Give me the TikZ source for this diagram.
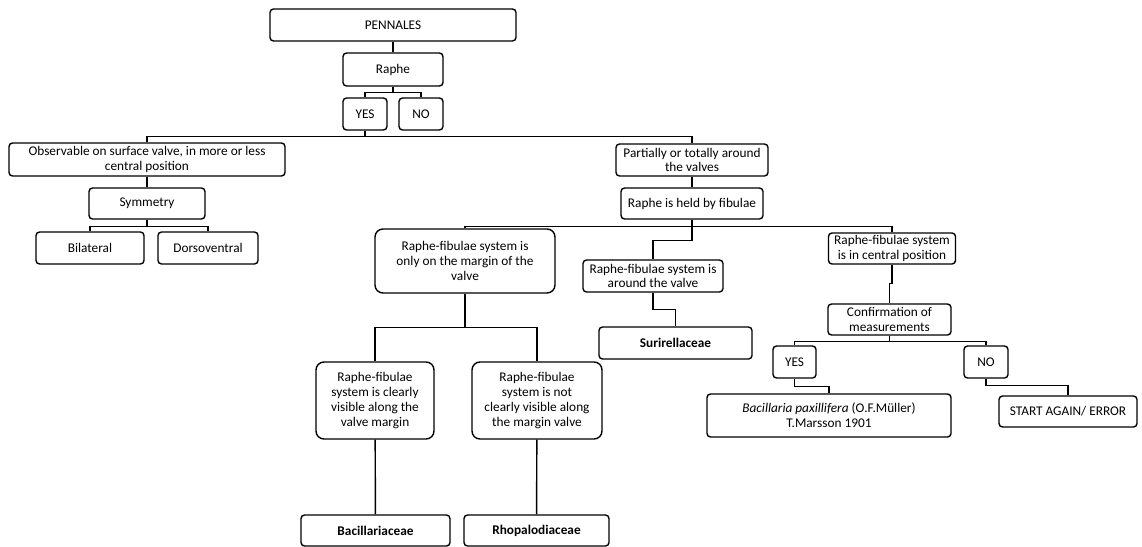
\documentclass[tikz,border=0pt]{standalone}
\usepackage{fontspec}
\setmainfont{Carlito}
\begin{document}
\begin{tikzpicture}[x=1pt,y=-1pt,
        box/.style={draw, line width=1.4pt, rounded corners=3.5pt, align=center, inner sep=0pt, font=\fontsize{13.3}{14.7}\selectfont},
        bigbox/.style={box, rounded corners=8pt},
        link/.style={line width=1.4pt}]
        \useasboundingbox (0,0) rectangle (1142,546);

        \node[box, minimum width=246pt, minimum height=32pt] (pennales) at (393,25) {PENNALES};
        \node[box, minimum width=100pt, minimum height=33pt] (raphe) at (393,69.5) {Raphe};
        \node[box, minimum width=44pt, minimum height=32pt] (yes) at (365,114) {YES};
        \node[box, minimum width=44pt, minimum height=32pt] (no) at (421,114) {NO};

        \node[box, minimum width=276pt, minimum height=33pt] (surface) at (147,159.5) {Observable on surface valve, in more or less\\central position};
        \node[box, minimum width=116pt, minimum height=31pt] (symmetry) at (147,203.5) {Symmetry};
        \node[box, minimum width=108pt, minimum height=32pt] (bilateral) at (90,248) {Bilateral};
        \node[box, minimum width=100pt, minimum height=32pt] (dorso) at (208,248) {Dorsoventral};

        \node[box, minimum width=152pt, minimum height=32pt] (around) at (692,160) {Partially or totally around\\the valves};
        \node[box, minimum width=142pt, minimum height=31pt] (fibulae) at (692,203.5) {Raphe is held by fibulae};

        \node[bigbox, minimum width=180pt, minimum height=64pt] (margin) at (465,261) {Raphe-fibulae system is\\only on the margin of the\\valve};
        \node[box, minimum width=140pt, minimum height=32pt] (aroundvalve) at (653,276) {Raphe-fibulae system is\\around the valve};
        \node[box, minimum width=153pt, minimum height=32pt] (suri) at (675.5,343) {\bfseries Surirellaceae};
        \node[box, minimum width=127pt, minimum height=31pt] (central) at (892,248.5) {Raphe-fibulae system\\is in central position};
        \node[box, minimum width=123pt, minimum height=31pt] (confirm) at (889.5,319.5) {Confirmation of\\measurements};
        \node[box, minimum width=43pt, minimum height=32pt] (yes2) at (794.5,362) {YES};
        \node[box, minimum width=44pt, minimum height=32pt] (no2) at (986,362) {NO};
        \node[box, minimum width=244pt, minimum height=43pt] (paxil) at (829,415.5) {\itshape Bacillaria paxillifera \upshape(O.F.Müller)\\T.Marsson 1901};
        \node[box, minimum width=138pt, minimum height=31pt] (start) at (1068,411.5) {START AGAIN/ ERROR};

        \node[bigbox, minimum width=118pt, minimum height=77pt] (clear) at (375,400.5) {Raphe-fibulae\\system is clearly\\visible along the\\valve margin};
        \node[bigbox, minimum width=130pt, minimum height=77pt] (notclear) at (537,400.5) {Raphe-fibulae\\system is not\\clearly visible along\\the margin valve};
        \node[box, minimum width=149pt, minimum height=31pt] (bacill) at (375.5,530.5) {\bfseries Bacillariaceae};
        \node[box, minimum width=145pt, minimum height=31pt] (rhopa) at (536.5,530.5) {\bfseries Rhopalodiaceae};

        % connectors
        \draw[link] (pennales) -- (raphe);
        \draw[link] (raphe.south) -- ++(0,6) -| (yes.north);
        \draw[link] (raphe.south) ++(0,6) -| (no.north);
        \draw[link] (yes.south) -- ++(0,6) -| (surface.north);
        \draw[link] (yes.south) ++(0,6) -| (around.north);
        \draw[link] (surface) -- (symmetry);
        \draw[link] (symmetry.south) -- ++(0,7) -| (bilateral.north);
        \draw[link] (symmetry.south) ++(0,7) -| (dorso.north);
        \draw[link] (around) -- (fibulae);
        \draw[link] (fibulae.south) -- ++(0,7) -| (margin.north);
        \draw[link] (fibulae.south) ++(0,7) -| (central.north);
        \draw[link] (fibulae.south) -- ++(0,21) -| (aroundvalve.north);
        \draw[link] (aroundvalve.south) -- ++(0,17) -| (suri.north);
        \draw[link] (central.south) -- ++(0,19) -| (confirm.north);
        \draw[link] (confirm.south) -- ++(0,6) -| (yes2.north);
        \draw[link] (confirm.south) ++(0,6) -| (no2.north);
        \draw[link] (yes2.south) -- ++(0,8) -| (paxil.north);
        \draw[link] (no2.south) -- ++(0,7) -| (start.north);
        \draw[link] (margin.south) -- ++(0,34) -| (clear.north);
        \draw[link] (margin.south) ++(0,34) -| (notclear.north);
        \draw[link] (clear) -- (bacill);
        \draw[link] (notclear) -- (rhopa);
    \end{tikzpicture}
\end{document}
